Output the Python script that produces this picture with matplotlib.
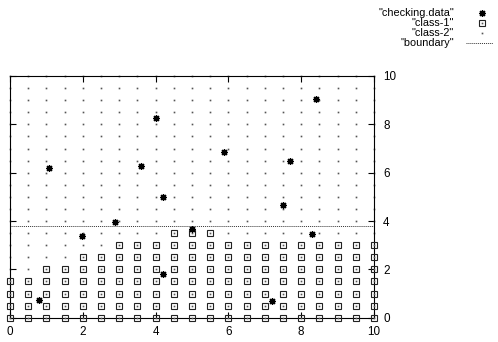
import matplotlib
matplotlib.use("Agg")
import matplotlib.pyplot as plt
from matplotlib.lines import Line2D
import numpy as np

plt.rcParams['font.family'] = ['Liberation Sans', 'DejaVu Sans']

# ---- data ----
check_x = [1.08, 1.99, 2.88, 3.60, 4.00, 4.20, 4.20, 4.99, 5.89, 7.69, 7.51, 7.19, 8.30, 8.40, 0.80]
check_y = [6.19, 3.39, 3.98, 6.28, 8.28, 4.99, 1.79, 3.67, 6.87, 6.49, 4.68, 0.70, 3.47, 9.06, 0.72]

grid_x = [0, 0.5, 1, 1.5, 2, 2.5, 3, 3.5, 4, 4.5, 5, 5.5, 6, 6.5, 7, 7.5, 8, 8.5, 9, 9.5, 10]
class1_top = [1.5, 1.5, 2.0, 2.0, 2.5, 2.5, 3.0, 3.0, 3.0, 3.5, 3.5, 3.5,
              3.0, 3.0, 3.0, 3.0, 3.0, 3.0, 3.0, 3.0, 3.0]
grid_y = [0, 0.5, 1, 1.5, 2, 2.5, 3, 3.5, 4, 4.5, 5, 5.5, 6, 6.5, 7, 7.5, 8, 8.5, 9, 9.5, 10]
boundary_y = 3.8
xticks = [0, 2, 4, 6, 8, 10]
yticks = [0, 2, 4, 6, 8, 10]
legend_labels = ['"checking.data"', '"class-1"', '"class-2"', '"boundary"']

c1x, c1y, c2x, c2y = [], [], [], []
for gx, top in zip(grid_x, class1_top):
    for gy in grid_y:
        if gy <= top:
            c1x.append(gx); c1y.append(gy)
        else:
            c2x.append(gx); c2y.append(gy)

W, H = 498, 342
fig = plt.figure(figsize=(W / 100, H / 100), dpi=100)
L, R, T, B = 10, 374, 76, 317.7
ax = fig.add_axes([L / W, (H - B) / H, (R - L) / W, (B - T) / H])
ax.set_xlim(0, 10)
ax.set_ylim(0, 10)

ast = (8, 2, 0)
AST_MS, AST_MEW = 5.0, 0.9
SQ_MS, SQ_MEW = 5.0, 0.8
DOT_MS = 1.2
ax.plot(c2x, c2y, linestyle='none', marker='s', markersize=DOT_MS, color='#555555',
        markeredgewidth=0, clip_on=False, zorder=2)
ax.plot(c1x, c1y, linestyle='none', marker='s', markersize=SQ_MS, markerfacecolor='none',
        markeredgecolor='#222222', markeredgewidth=SQ_MEW, clip_on=False, zorder=3)
ax.plot(c1x, c1y, linestyle='none', marker='s', markersize=DOT_MS, color='#555555',
        markeredgewidth=0, clip_on=False, zorder=3)
ax.plot([0, 10], [boundary_y, boundary_y], linestyle=(0, (1, 1)), color='#333333',
        linewidth=0.7, zorder=2)
ax.plot(check_x, check_y, linestyle='none', marker=ast, markersize=AST_MS,
        color='black', markeredgewidth=AST_MEW, clip_on=False, zorder=4)

ax.set_xticks(xticks)
ax.set_yticks(yticks)
ax.set_xticklabels([str(t) for t in xticks])
ax.set_yticklabels([str(t) for t in yticks])
ax.tick_params(direction='in', length=4.5, width=0.8, top=True, right=True,
               labelleft=False, labelright=True, labelsize=8.4, colors='black')
ax.tick_params(axis='y', pad=6.5)
ax.tick_params(axis='x', pad=6)
for s in ax.spines.values():
    s.set_linewidth(0.8)
    s.set_color('black')

# legend (top right)
rows = [12.5, 22.5, 32.5, 42.5]
tx, sx = 454, 482
for lab, ry in zip(legend_labels, rows):
    fig.text(tx / W, 1 - ry / H, lab, ha='right', va='center', fontsize=7.8)
fy = [1 - r / H for r in rows]
fig.add_artist(Line2D([sx / W], [fy[0]], marker=ast, markersize=AST_MS, color='black',
                      markeredgewidth=AST_MEW, transform=fig.transFigure))
fig.add_artist(Line2D([sx / W], [fy[1]], marker='s', markersize=SQ_MS, markerfacecolor='none',
                      markeredgecolor='#222222', markeredgewidth=SQ_MEW, transform=fig.transFigure))
fig.add_artist(Line2D([sx / W], [fy[1]], marker='s', markersize=DOT_MS, color='#555555',
                      markeredgewidth=0, transform=fig.transFigure))
fig.add_artist(Line2D([sx / W], [fy[2]], marker='s', markersize=DOT_MS, color='#555555',
                      markeredgewidth=0, transform=fig.transFigure))
fig.add_artist(Line2D([466 / W, 493 / W], [fy[3], fy[3]], linestyle=(0, (1, 1)),
                      color='#333333', linewidth=0.7, transform=fig.transFigure))

fig.savefig('out.png', dpi=100)
